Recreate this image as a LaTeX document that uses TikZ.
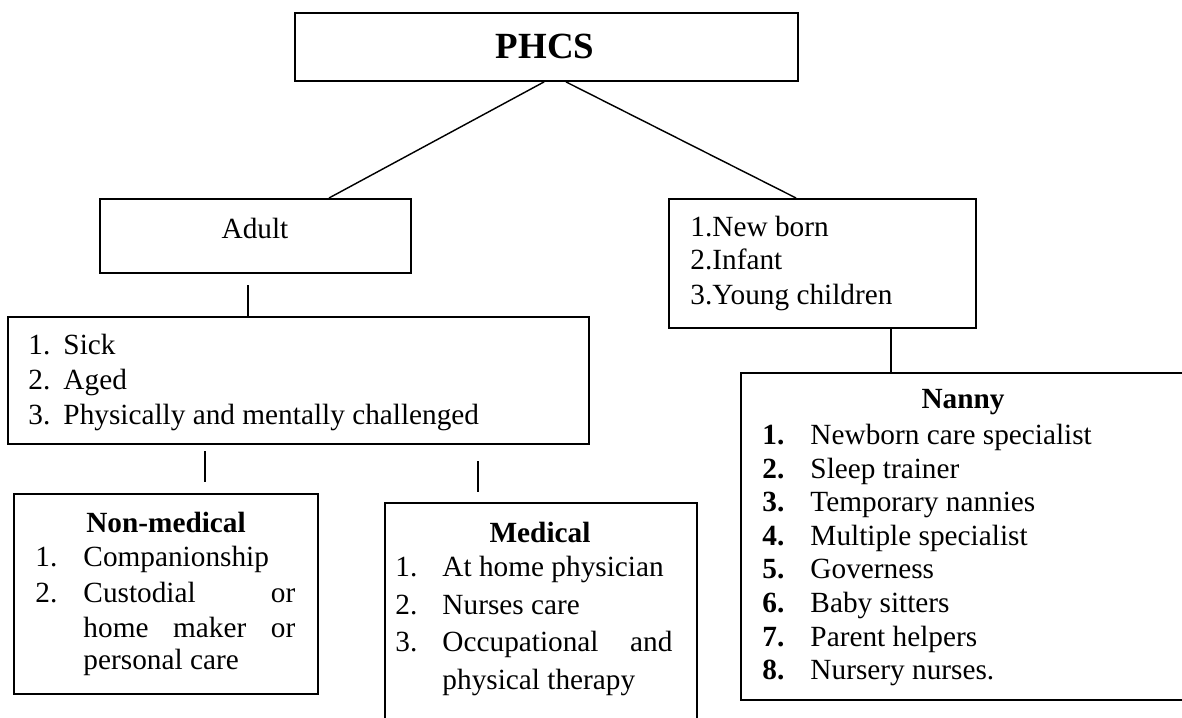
\documentclass[tikz,border=0pt]{standalone}
\usepackage{fontspec}
\setmainfont{Liberation Serif}
\usetikzlibrary{positioning}

\tikzset{
  box/.style={draw, line width=0.8pt, inner sep=0pt, anchor=north west},
  txt/.style={inner sep=0pt, anchor=base west, font=\fontsize{12.3}{14}\selectfont},
  ttl/.style={inner sep=0pt, font=\fontsize{12.3}{14}\selectfont\bfseries},
  link/.style={line width=0.6pt}
}

\begin{document}
\begin{tikzpicture}[x=0.42pt, y=-0.42pt]
\useasboundingbox (0,0) rectangle (1182,718);

% boxes
\node[box, minimum width=211.26pt, minimum height=28.56pt] (phcs) at (294,12) {};
\node[box, minimum width=130.62pt, minimum height=31.08pt] (adult) at (99,198) {};
\node[box, minimum width=128.94pt, minimum height=54.18pt] (kids) at (668,198) {};
\node[box, minimum width=244.02pt, minimum height=53.34pt] (sick) at (7,316) {};
\node[box, minimum width=127.68pt, minimum height=84pt] (nonmed) at (13,493) {};
\node[box, minimum width=131.04pt, minimum height=105pt] (medical) at (384,502) {};
\node[box, minimum width=187.32pt, minimum height=137.34pt] (nanny) at (740,372) {};

% top level
\node[inner sep=0pt, font=\fontsize{15.5}{18}\selectfont\bfseries] (phcstxt) at (545,46) {PHCS};
\node[inner sep=0pt, font=\fontsize{12.3}{14}\selectfont] (adulttxt) at (255,228) {Adult};

\node[txt] (k1) at (690,236) {1.New born};
\node[txt] (k2) at (690,270) {2.Infant};
\node[txt] (k3) at (690,304) {3.Young children};

% adult groups
\node[txt] (s1n) at (28,354.5) {1.};
\node[txt] (s1) at (63,354.5) {Sick};
\node[txt] (s2n) at (28,389.5) {2.};
\node[txt] (s2) at (63,389.5) {Aged};
\node[txt] (s3n) at (28,424.5) {3.};
\node[txt] (s3) at (63,424.5) {Physically and mentally challenged};

% non-medical
\node[ttl] (nmtitle) at (166,522) {Non-medical};
\node[txt] (nm1n) at (35,566.5) {1.};
\node[txt] (nm1) at (83,566.5) {Companionship};
\node[txt] (nm2n) at (35,602.5) {2.};
\node[txt] (nm2) at (83,602.5) {\makebox[89pt][s]{Custodial\hfill or}};
\node[txt] (nm2b) at (83,637.5) {\makebox[89pt][s]{home maker or}};
\node[txt] (nm2c) at (83,669.5) {personal care};

% medical
\node[ttl] (mtitle) at (540,532) {Medical};
\node[txt] (m1n) at (395,576.5) {1.};
\node[txt] (m1) at (442,576.5) {At home physician};
\node[txt] (m2n) at (395,614.5) {2.};
\node[txt] (m2) at (442,614.5) {Nurses care};
\node[txt] (m3n) at (395,651.5) {3.};
\node[txt] (m3) at (442,651.5) {\makebox[96.6pt][s]{Occupational\hfill and}};
\node[txt] (m3b) at (442,689.5) {physical therapy};

% nanny
\node[ttl] (ntitle) at (963,402) {Nanny};
\node[txt] (n1n) at (762,444.5) {\textbf{1.}};
\node[txt] (n1) at (810,444.5) {Newborn care specialist};
\node[txt] (n2n) at (762,478.1) {\textbf{2.}};
\node[txt] (n2) at (810,478.1) {Sleep trainer};
\node[txt] (n3n) at (762,511.7) {\textbf{3.}};
\node[txt] (n3) at (810,511.7) {Temporary nannies};
\node[txt] (n4n) at (762,545.3) {\textbf{4.}};
\node[txt] (n4) at (810,545.3) {Multiple specialist};
\node[txt] (n5n) at (762,578.9) {\textbf{5.}};
\node[txt] (n5) at (810,578.9) {Governess};
\node[txt] (n6n) at (762,612.5) {\textbf{6.}};
\node[txt] (n6) at (810,612.5) {Baby sitters};
\node[txt] (n7n) at (762,646.1) {\textbf{7.}};
\node[txt] (n7) at (810,646.1) {Parent helpers};
\node[txt] (n8n) at (762,679.7) {\textbf{8.}};
\node[txt] (n8) at (810,679.7) {Nursery nurses.};

% connectors
\draw[link] ([xshift=-1pt]phcs.south) -- ([xshift=30.9pt]adult.north);
\draw[link] ([xshift=8.2pt]phcs.south) -- ([xshift=-11.1pt]kids.north);

\coordinate (a1) at (248,285);
\draw[link] (a1) -- (a1 |- sick.north);

\coordinate (b1) at (205,451);
\coordinate (b2) at (205,482);
\draw[link] (b1) -- (b2);

\coordinate (c1) at (478,461);
\coordinate (c2) at (478,492);
\draw[link] (c1) -- (c2);

\coordinate (d1) at (891,327);
\draw[link] (d1) -- (d1 |- nanny.north);

\end{tikzpicture}
\end{document}
